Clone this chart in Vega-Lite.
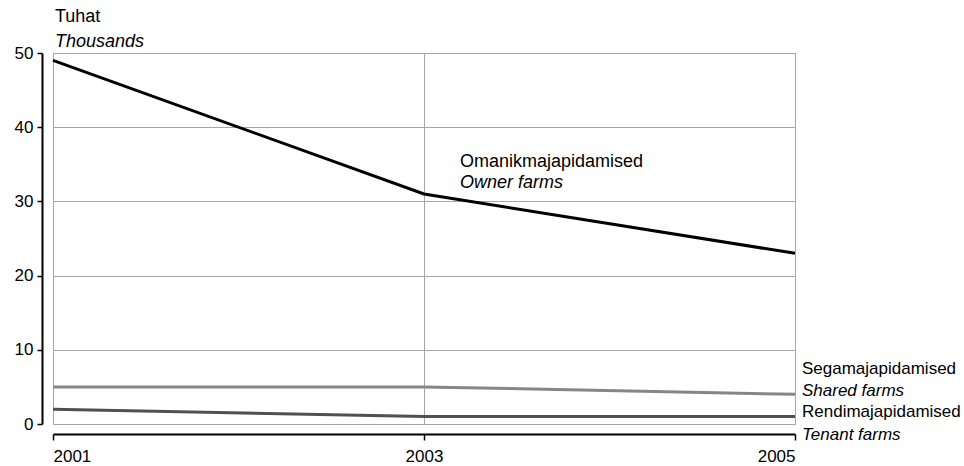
{
  "$schema": "https://vega.github.io/schema/vega-lite/v6.json",
  "width": 742,
  "height": 371,
  "autosize": {"type": "none"},
  "padding": {"left": 53, "top": 53, "right": 169, "bottom": 42},
  "background": "white",
  "config": {
    "font": "Liberation Sans",
    "view": {"stroke": "#a6a6a6", "strokeWidth": 1},
    "axis": {
      "labelFont": "Liberation Sans",
      "labelFontSize": 17,
      "labelColor": "#000000",
      "domainColor": "#000000",
      "domainWidth": 2,
      "tickColor": "#000000",
      "tickWidth": 1.5,
      "gridColor": "#a6a6a6",
      "gridWidth": 1,
      "gridOpacity": 1,
      "title": null
    },
    "text": {"font": "Liberation Sans", "fontSize": 18, "color": "#000000", "align": "left", "baseline": "middle"}
  },
  "layer": [
    {
      "data": {
        "values": [
          {"year": 2001, "value": 49, "series": "Owner farms"},
          {"year": 2003, "value": 31, "series": "Owner farms"},
          {"year": 2005, "value": 23, "series": "Owner farms"},
          {"year": 2001, "value": 5, "series": "Shared farms"},
          {"year": 2003, "value": 5, "series": "Shared farms"},
          {"year": 2005, "value": 4, "series": "Shared farms"},
          {"year": 2001, "value": 2, "series": "Tenant farms"},
          {"year": 2003, "value": 1, "series": "Tenant farms"},
          {"year": 2005, "value": 1, "series": "Tenant farms"}
        ]
      },
      "mark": {"type": "line", "strokeWidth": 3},
      "encoding": {
        "x": {
          "field": "year", "type": "quantitative",
          "scale": {"domain": [2001, 2005], "nice": false, "zero": false},
          "axis": {"values": [2001, 2003, 2005], "format": "d", "offset": 10, "tickSize": 6, "labelPadding": 8, "grid": true}
        },
        "y": {
          "field": "value", "type": "quantitative",
          "scale": {"domain": [0, 50], "nice": false},
          "axis": {"values": [0, 10, 20, 30, 40, 50], "offset": 11, "tickSize": 5, "labelPadding": 4, "grid": true}
        },
        "color": {
          "field": "series", "type": "nominal",
          "scale": {"domain": ["Owner farms", "Shared farms", "Tenant farms"], "range": ["#000000", "#868686", "#505050"]},
          "legend": null
        }
      }
    },
    {
      "data": {"values": [{"year": 2001, "value": 50, "text": "Tuhat"}]},
      "mark": {"type": "text", "dx": 2, "dy": -36},
      "encoding": {"x": {"field": "year", "type": "quantitative"}, "y": {"field": "value", "type": "quantitative"}, "text": {"field": "text"}}
    },
    {
      "data": {"values": [{"year": 2001, "value": 50, "text": "Thousands"}]},
      "mark": {"type": "text", "dx": 2, "dy": -11, "fontStyle": "italic"},
      "encoding": {"x": {"field": "year", "type": "quantitative"}, "y": {"field": "value", "type": "quantitative"}, "text": {"field": "text"}}
    },
    {
      "data": {"values": [{"year": 2003, "value": 31, "text": "Omanikmajapidamised"}]},
      "mark": {"type": "text", "dx": 36, "dy": -32},
      "encoding": {"x": {"field": "year", "type": "quantitative"}, "y": {"field": "value", "type": "quantitative"}, "text": {"field": "text"}}
    },
    {
      "data": {"values": [{"year": 2003, "value": 31, "text": "Owner farms"}]},
      "mark": {"type": "text", "dx": 36, "dy": -11, "fontStyle": "italic"},
      "encoding": {"x": {"field": "year", "type": "quantitative"}, "y": {"field": "value", "type": "quantitative"}, "text": {"field": "text"}}
    },
    {
      "data": {"values": [{"year": 2005, "value": 4, "text": "Segamajapidamised"}]},
      "mark": {"type": "text", "dx": 7, "dy": -25, "fontSize": 17},
      "encoding": {"x": {"field": "year", "type": "quantitative"}, "y": {"field": "value", "type": "quantitative"}, "text": {"field": "text"}}
    },
    {
      "data": {"values": [{"year": 2005, "value": 4, "text": "Shared farms"}]},
      "mark": {"type": "text", "dx": 7, "dy": -3, "fontStyle": "italic", "fontSize": 17},
      "encoding": {"x": {"field": "year", "type": "quantitative"}, "y": {"field": "value", "type": "quantitative"}, "text": {"field": "text"}}
    },
    {
      "data": {"values": [{"year": 2005, "value": 1, "text": "Rendimajapidamised"}]},
      "mark": {"type": "text", "dx": 7, "dy": -5, "fontSize": 17},
      "encoding": {"x": {"field": "year", "type": "quantitative"}, "y": {"field": "value", "type": "quantitative"}, "text": {"field": "text"}}
    },
    {
      "data": {"values": [{"year": 2005, "value": 1, "text": "Tenant farms"}]},
      "mark": {"type": "text", "dx": 7, "dy": 18, "fontStyle": "italic", "fontSize": 17},
      "encoding": {"x": {"field": "year", "type": "quantitative"}, "y": {"field": "value", "type": "quantitative"}, "text": {"field": "text"}}
    }
  ]
}
